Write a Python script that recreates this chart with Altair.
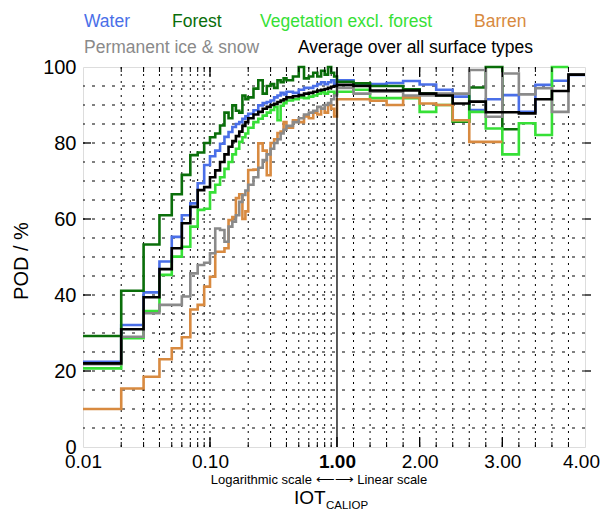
import math
import altair as alt
import pandas as pd

# ---------------- data ----------------
bin_edges = [0.01, 0.02, 0.03, 0.04, 0.05, 0.06, 0.07, 0.08, 0.09,
             0.10, 0.11, 0.12, 0.13, 0.14, 0.15, 0.16, 0.17, 0.18, 0.19,
             0.20, 0.22, 0.24, 0.26, 0.28, 0.30, 0.32, 0.34, 0.36, 0.38,
             0.40, 0.45, 0.50, 0.55, 0.60, 0.65, 0.70, 0.75, 0.80, 0.85, 0.90, 0.95,
             1.0, 1.2, 1.4, 1.6, 1.8, 2.0, 2.2, 2.4, 2.6, 2.8, 3.0, 3.2, 3.4, 3.6, 3.8,
             4.0]

water = [22.4, 32.1, 40.7, 48.8, 55.3, 61.0, 64.1, 69.4, 74.2,
         76.5, 78, 79.8, 81.6, 82.9, 84.2, 85, 85.5, 86.4, 87,
         87.7, 88.6, 89.9, 90.5, 90.8, 91.2, 92, 92.5, 93.2, 92.8,
         93.5, 93.2, 94, 94.5, 94.5, 95, 95.5, 96, 95.5, 96, 96.5, 95.5,
         96.5, 95.5, 95.5, 95.8, 96.3, 95.4, 94.0, 92.2, 88.7, 91.5, 92.6, 88.2, 95.3, 96.4, 97.9]

forest = [29.2, 41.1, 53.3, 61.0, 66.5, 71.6, 76.8, 77.5, 80.0,
          81.5, 82.5, 84.6, 88, 86.5, 89.9, 88.5, 88, 92.5, 91.5,
          92, 94.3, 96.5, 93, 95, 95.5, 94.5, 96.5, 96, 97,
          96.5, 97.5, 100, 97, 97.5, 98.5, 97.5, 99, 98, 100, 98.5, 97.5,
          96.1, 95.7, 95.0, 95.0, 94.1, 93.0, 92.6, 85.6, 94.6, 100, 83.6, None, None, None, None]

vegetation = [20.7, 28.6, 35.8, 45.3, 50.1, 52.7, 58, 62.4, 62.7,
              67, 69, 71, 73.2, 75, 77, 78.5, 80.3, 81.5, 82.5,
              84, 85.5, 86.4, 87.2, 88, 88.7, 89.5, 86, 89.8, 90.5,
              91.2, 91.5, 92, 91.8, 92.2, 92.5, 93, 93.4, 93, 93.5, 93.5, 93,
              93.5, 94.0, 91.8, 91.8, 91.8, 88.2, 90.0, 85.8, 88.2, 83.8, 77.0, 85.2, 82.1, 100, None]

barren = [10.0, 15.4, 18.5, 23.1, 26.0, 28.9, 36.2, 37.4, 42.2,
          44.8, 51.4, 51.4, 52.3, 59.7, 60.5, 65.5, 66.5, 60, 62,
          72.9, 73, 79.9, 78, 71.5, 80, 81, 82.6, 83, 85.5,
          84, 86, 85.5, 87, 86.5, 88, 87.5, 89, 88, 90, 89, 87,
          91.5, 91.5, 91.1, 90.0, 92.0, 90.4, 90.0, 86.0, 80.3, 80.3, None, None, None, None, None]

ice = [21.8, 29.0, 35.2, 37.4, 37.4, 39.6, 45.7, 47.9, 48.5,
       51, 57.5, 57.1, 54, 58, 59.3, 61, 64.5, 66.3, 67.5,
       69, 71, 73.5, 75.5, 77, 78.5, 80, 81, 82.5, 83.5,
       84.5, 85.5, 86.5, 87.5, 88, 88.5, 89.5, 89, 90, 90.5, 91.5, 92.5,
       94.5, 93.0, 93.5, 93.5, 92.5, 92.5, 93.0, 93.0, 99.2, 86.9, 98.3, 92.8, 94.4, 88.2, 98.0]

average = [22.0, 31.0, 39.4, 46.8, 52.3, 58.9, 63.2, 67.6, 68.4,
           71, 72.8, 75, 77, 79, 80.5, 81.8, 83, 84.5, 85.5,
           86.5, 87.5, 88.2, 89, 89.5, 90, 90.3, 90.8, 91.2, 91.5,
           92, 92.3, 92.6, 93, 93.2, 93.5, 93.8, 94, 94.2, 94.5, 94.8, 95,
           95.3, 95.0, 93.8, 93.8, 93.8, 93.0, 92.5, 90.4, 90.9, 88.1, 88.1, 87.8, 91.5, 93.7, 98.0]

series_names = ["Water", "Forest", "Vegetation excl. forest", "Barren",
                "Permanent ice & snow", "Average over all surface types"]
series_values = [water, forest, vegetation, barren, ice, average]
series_colors = ["#4a6fe8", "#0a6e0a", "#36e036", "#d88a40", "#8a8a8a", "#000000"]

tick_values = [0.01, 0.1, 1.0, 2.0, 3.0, 4.0]
tick_labels = ["0.01", "0.10", "1.00", "2.00", "3.00", "4.00"]
grid_x = [0.02, 0.03, 0.04, 0.05, 0.06, 0.07, 0.08, 0.09, 0.1,
          0.2, 0.3, 0.4, 0.5, 0.6, 0.7, 0.8, 0.9,
          1.2, 1.4, 1.6, 1.8, 2.0, 2.2, 2.4, 2.6, 2.8, 3.0, 3.2, 3.4, 3.6, 3.8]
grid_y = [5, 10, 15, 20, 25, 30, 35, 40, 45, 50, 55, 60, 65, 70, 75, 80, 85, 90, 95]
y_ticks = [0, 20, 40, 60, 80, 100]

# ---------------- axis transform: log up to 1, linear above ----------------
LIN_K = 0.651
T_MAX = 2 + 3 * LIN_K


def to_t(x):
    return math.log10(x) + 2 if x <= 1 else 2 + (x - 1) * LIN_K


W, H = 502, 380
FONT = "Liberation Sans"

xscale = alt.Scale(domain=[0, T_MAX], nice=False, zero=False)
yscale = alt.Scale(domain=[0, 100], nice=False, zero=False)

tick_t = [to_t(v) for v in tick_values]
label_expr = ""
for tt, lab in zip(tick_t, tick_labels):
    label_expr += f"abs(datum.value - {tt:.5f}) < 0.01 ? '{lab}' : "
label_expr += "''"

x_axis = alt.Axis(values=tick_t, labelExpr=label_expr, ticks=False, domain=False,
                  grid=False, title=None, labelFontSize=19, labelFont=FONT,
                  labelColor="black", labelPadding=5, labelFlush=False,
                  labelOverlap=False,
                  labelOffset={"condition": {"test": f"datum.value > {T_MAX - 0.01:.4f}",
                                             "value": -4},
                               "value": 0},
                  labelFontWeight={"condition": {"test": "abs(datum.value - 2) < 0.01",
                                                 "value": 600},
                                   "value": "normal"})
y_axis = alt.Axis(values=y_ticks, ticks=False, domain=False, grid=False, title=None,
                  labelFontSize=20, labelFont=FONT, labelColor="black",
                  labelPadding=7, labelFlush=False, labelOverlap=False)

X = alt.X("t:Q", scale=xscale, axis=x_axis)
Y = alt.Y("v:Q", scale=yscale, axis=y_axis)

layers = []

# grid
vgrid = pd.DataFrame({"t": [to_t(v) for v in grid_x]})
layers.append(alt.Chart(vgrid).mark_rule(color="black", strokeWidth=1,
                                         strokeDash=[2, 5]).encode(x=X))
hgrid = pd.DataFrame({"v": grid_y})
layers.append(alt.Chart(hgrid).mark_rule(color="black", strokeWidth=1,
                                         strokeDash=[3, 7]).encode(y=Y))

# step lines
for name, vals, col in zip(series_names, series_values, series_colors):
    rows = []
    for i, v in enumerate(vals):
        if v is None:
            continue
        rows.append({"t": to_t(bin_edges[i]), "v": v})
        if i + 1 == len(vals) or vals[i + 1] is None:
            rows.append({"t": to_t(bin_edges[i + 1]), "v": v})
    df = pd.DataFrame(rows)
    layers.append(alt.Chart(df).mark_line(interpolate="step-after", color=col,
                                          strokeWidth=2.6).encode(x=X, y=Y))

# solid divider at 1.00
div = pd.DataFrame({"t": [to_t(1.0)]})
layers.append(alt.Chart(div).mark_rule(color="black", strokeWidth=1.3).encode(x=X))

# minor / major ticks (inward)
mt = pd.DataFrame({"t": [to_t(v) for v in grid_x]})
layers.append(alt.Chart(mt).mark_rule(color="black", strokeWidth=1).encode(
    x=X, y=alt.value(H), y2=alt.value(H - 5)))
layers.append(alt.Chart(mt).mark_rule(color="black", strokeWidth=1).encode(
    x=X, y=alt.value(0), y2=alt.value(5)))
Mt = pd.DataFrame({"t": [to_t(v) for v in tick_values[1:-1]]})
layers.append(alt.Chart(Mt).mark_rule(color="black", strokeWidth=1.3).encode(
    x=X, y=alt.value(H), y2=alt.value(H - 10)))
layers.append(alt.Chart(Mt).mark_rule(color="black", strokeWidth=1.3).encode(
    x=X, y=alt.value(0), y2=alt.value(10)))
yt = pd.DataFrame({"v": y_ticks[1:-1]})
layers.append(alt.Chart(yt).mark_rule(color="black", strokeWidth=1.3).encode(
    y=Y, x=alt.value(0), x2=alt.value(8)))
layers.append(alt.Chart(yt).mark_rule(color="black", strokeWidth=1.3).encode(
    y=Y, x=alt.value(W), x2=alt.value(W + 6)))

# legend texts
legend_pos = [(1, -40), (89, -40), (177, -40), (391, -40), (1, -14), (215, -14)]
legend_df = pd.DataFrame({"series": series_names})
for name, col, (px, py) in zip(series_names, series_colors, legend_pos):
    layers.append(alt.Chart(legend_df).transform_filter(alt.datum.series == name)
                  .mark_text(align="left", baseline="alphabetic", font=FONT,
                             fontSize=17.5, color=col)
                  .encode(text="series:N", x=alt.value(px), y=alt.value(py)))

# titles
arrow_txt = "Logarithmic scale \u27f5\u27f6 Linear scale"
titles = pd.DataFrame({"txt": ["POD / %", arrow_txt, "IOT", "CALIOP"]})
title_specs = [
    ("POD / %", -61, 194, 20, 270, "center", "middle"),
    (arrow_txt, 236, 417, 13, 0, "center", "alphabetic"),
    ("IOT", 211, 436.5, 19, 0, "left", "alphabetic"),
    ("CALIOP", 243, 441.5, 11.5, 0, "left", "alphabetic"),
]
for txt, px, py, fs, ang, al, bl in title_specs:
    layers.append(alt.Chart(titles).transform_filter(alt.datum.txt == txt)
                  .mark_text(align=al, baseline=bl, font=FONT, fontSize=fs,
                             angle=ang, color="black")
                  .encode(text="txt:N", x=alt.value(px), y=alt.value(py)))

chart = alt.layer(*layers).properties(
    width=W, height=H,
    padding={"left": 75, "top": 59, "right": 15, "bottom": 64},
    autosize=alt.AutoSizeParams(type="none"),
).configure_view(stroke="black", strokeWidth=1.5).configure(background="white")

chart.save("out.html", embed_options={"renderer": "svg", "actions": False})
